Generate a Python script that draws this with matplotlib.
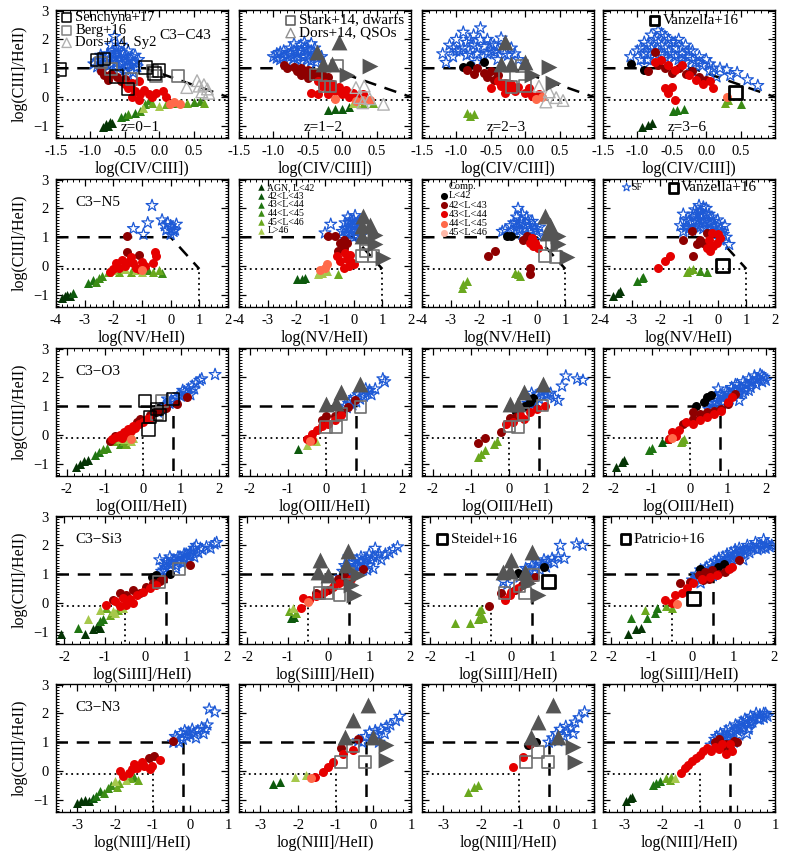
import matplotlib
matplotlib.use("Agg")
import matplotlib.pyplot as plt
from matplotlib.ticker import FixedLocator, MultipleLocator, FormatStrFormatter

plt.rcParams['font.family'] = ['Liberation Serif', 'DejaVu Serif']

# ── Data ──────────────────────────────────────────────────────────────────────
# comp classes: 0 L<42, 1 42-43, 2 43-44, 3 44-45, 4 45-46
# AGN classes : 0 L<42, 1 42-43, 2 43-44, 3 44-45, 4 45-46, 5 L>46

# --- row 1: C3-C4 -------------------------------------------------------------
SF_C4 = [
    [(-0.95, 1.15), (-0.9, 1.25), (-0.85, 1.05), (-0.8, 1.35), (-0.78, 1.2), (-0.75, 1.5), (-0.72, 1.1),
     (-0.7, 1.3), (-0.68, 1.6), (-0.65, 1.45), (-0.63, 1.2), (-0.6, 1.68), (-0.6, 1.0), (-0.58, 1.35),
     (-0.55, 1.55), (-0.55, 1.15), (-0.5, 1.4), (-0.5, 0.95), (-0.47, 1.25), (-0.45, 1.6), (-0.42, 1.1),
     (-0.4, 1.4), (-0.38, 0.85), (-0.35, 1.2), (-0.32, 1.05), (-0.65, 2.1), (-0.7, 1.8), (-0.55, 1.8),
     (-0.85, 1.45), (-0.45, 0.75), (-0.9, 1.05), (-0.85, 1.3), (-0.75, 1.4), (-0.7, 1.15), (-0.65, 1.35),
     (-0.62, 1.55), (-0.57, 1.25), (-0.52, 1.5), (-0.48, 1.05), (-0.43, 1.3), (-0.38, 1.2), (-0.35, 1.45),
     (-0.3, 1.3)],
    [(-1.0, 1.4), (-0.95, 1.5), (-0.9, 1.3), (-0.85, 1.6), (-0.8, 1.45), (-0.75, 1.7), (-0.7, 1.35),
     (-0.65, 1.55), (-0.6, 1.8), (-0.55, 1.4), (-0.5, 1.65), (-0.45, 1.85), (-0.4, 1.5), (-0.38, 1.2),
     (-0.45, 1.25), (-0.6, 1.2), (-0.3, 1.4), (-0.55, 1.9), (-0.8, 1.2), (-0.7, 1.85), (-0.95, 1.35),
     (-0.9, 1.55), (-0.85, 1.4), (-0.75, 1.5), (-0.7, 1.6), (-0.65, 1.4), (-0.6, 1.6), (-0.55, 1.7),
     (-0.5, 1.45), (-0.45, 1.6), (-0.4, 1.7), (-0.35, 1.35), (-0.5, 1.3), (-0.65, 1.3)],
    [(-1.2, 1.5), (-1.1, 1.8), (-1.05, 1.4), (-1.0, 2.0), (-0.95, 1.6), (-0.9, 2.25), (-0.85, 1.9),
     (-0.8, 1.5), (-0.75, 2.15), (-0.7, 1.7), (-0.65, 2.4), (-0.6, 1.4), (-0.55, 2.0), (-0.5, 1.6),
     (-0.45, 1.8), (-0.4, 1.3), (-0.3, 1.5), (-0.2, 1.7), (-0.1, 1.3), (-0.35, 2.05), (-0.7, 1.2),
     (-1.15, 1.2), (-1.0, 1.6), (-0.9, 1.7), (-0.85, 1.45), (-0.75, 1.8), (-0.7, 1.5), (-0.65, 2.0),
     (-0.6, 1.75), (-0.55, 1.5), (-0.5, 1.85), (-0.45, 1.55), (-0.4, 1.65), (-0.3, 1.8), (-0.25, 1.45),
     (-0.8, 2.0), (-1.05, 1.7), (-0.15, 1.5)],
    [(-1.1, 1.4), (-1.0, 1.6), (-0.95, 1.3), (-0.9, 1.9), (-0.85, 1.5), (-0.8, 2.15), (-0.8, 1.7),
     (-0.75, 1.3), (-0.7, 2.3), (-0.7, 1.9), (-0.65, 1.5), (-0.6, 2.1), (-0.6, 1.7), (-0.55, 1.3),
     (-0.5, 1.9), (-0.5, 1.5), (-0.45, 1.7), (-0.4, 1.3), (-0.4, 2.0), (-0.35, 1.5), (-0.3, 1.8),
     (-0.3, 1.2), (-0.25, 1.4), (-0.2, 1.6), (-0.15, 1.2), (-0.1, 1.4), (-0.05, 1.1), (0.0, 1.3),
     (0.05, 0.9), (0.15, 0.7), (0.2, 1.0), (0.35, 0.75), (0.45, 0.85), (0.6, 0.6), (0.75, 0.4),
     (0.3, 0.95), (-0.9, 1.1), (-0.2, 0.9), (-0.95, 1.7), (-0.9, 1.5), (-0.85, 1.8), (-0.75, 1.6),
     (-0.75, 2.0), (-0.65, 1.8), (-0.65, 2.2), (-0.55, 1.6), (-0.55, 2.0), (-0.45, 1.4), (-0.45, 1.9),
     (-0.35, 1.7), (-0.35, 1.3), (-0.25, 1.6), (-0.2, 1.3), (-0.1, 1.2), (0.05, 1.15), (0.1, 1.0),
     (-0.85, 1.3), (-0.6, 1.4)],
]
COMP_C4 = [
    [(-0.85, 0.9, 1), (-0.8, 0.75, 1), (-0.75, 0.6, 1), (-0.7, 0.8, 1), (-0.62, 0.7, 1), (-0.55, 0.55, 1),
     (-0.5, 0.62, 1), (-0.5, 0.45, 2), (-0.45, 0.3, 2), (-0.4, 0.5, 2), (-0.35, 0.2, 2), (-0.3, 0.55, 2),
     (-0.28, 0.1, 2), (-0.22, 0.25, 2), (-0.15, 0.1, 2), (-0.1, 0.0, 2), (-0.05, 0.15, 2), (0.05, 0.2, 2),
     (0.1, 0.0, 2), (-0.4, 0.0, 2), (-0.3, -0.1, 2), (0.15, -0.25, 3), (0.3, -0.25, 3), (0.22, -0.18, 3)],
    [(-0.85, 1.1, 1), (-0.8, 1.0, 1), (-0.7, 1.05, 1), (-0.65, 0.9, 1), (-0.6, 1.0, 1), (-0.55, 0.85, 1),
     (-0.5, 0.95, 1), (-0.45, 0.75, 1), (-0.4, 0.85, 1), (-0.35, 0.65, 1), (-0.3, 0.8, 1), (-0.25, 0.6, 1),
     (-0.2, 0.7, 1), (-0.6, 0.75, 1), (-0.5, 0.65, 1), (-0.35, 0.55, 2), (-0.3, 0.4, 2), (-0.25, 0.5, 2),
     (-0.2, 0.3, 2), (-0.15, 0.45, 2), (-0.1, 0.2, 2), (-0.05, 0.35, 2), (0.0, 0.1, 2), (0.05, 0.25, 2),
     (0.1, 0.0, 2), (0.15, 0.15, 2), (0.2, 0.05, 2), (-0.45, 0.15, 2), (-0.35, 0.1, 2), (-0.2, 0.1, 2),
     (0.25, -0.05, 2), (0.3, 0.1, 2), (0.4, -0.1, 3), (0.2, -0.15, 3), (0.3, -0.1, 3), (-0.1, -0.05, 3)],
    [(-0.9, 1.05, 0), (-0.8, 1.1, 0), (-0.6, 1.2, 0), (-0.85, 0.95, 1), (-0.75, 0.8, 1), (-0.7, 1.0, 1),
     (-0.6, 0.85, 1), (-0.55, 0.7, 1), (-0.5, 0.9, 1), (-0.45, 0.6, 1), (-0.4, 0.75, 1), (-0.4, 0.55, 2),
     (-0.35, 0.4, 2), (-0.3, 0.5, 2), (-0.25, 0.3, 2), (-0.2, 0.45, 2), (-0.15, 0.2, 2), (-0.1, 0.35, 2),
     (0.0, 0.15, 2), (0.05, 0.3, 2), (0.1, 0.05, 2), (0.2, 0.1, 2), (-0.5, 0.3, 2), (-0.3, 0.15, 2),
     (0.15, -0.05, 3), (0.25, 0.0, 3)],
    [(-1.1, 1.15, 0), (-0.9, 0.95, 0), (-0.85, 0.9, 1), (-0.7, 1.1, 1), (-0.6, 1.0, 1), (-0.5, 0.85, 1),
     (-0.4, 1.0, 1), (-0.3, 0.8, 1), (-0.2, 0.9, 1), (-0.1, 0.7, 1), (0.0, 0.6, 1), (-0.75, 1.55, 1),
     (-0.75, 1.2, 2), (-0.65, 1.3, 2), (-0.55, 1.1, 2), (-0.45, 0.95, 2), (-0.35, 1.1, 2), (-0.25, 0.75, 2),
     (-0.15, 0.6, 2), (-0.05, 0.45, 2), (0.1, 0.3, 2), (-0.6, 0.3, 2), (-0.55, 0.15, 2), (-0.5, 0.35, 2),
     (-0.45, -0.1, 2), (0.05, 0.55, 2), (0.3, 0.0, 3)],
]
AGN_C4 = [
    [(-0.82, -1.05, 0), (-0.78, -0.95, 0), (-0.75, -1.0, 0), (-0.72, -0.88, 0), (-0.68, -0.9, 0),
     (-0.55, -0.7, 2), (-0.5, -0.65, 2), (-0.45, -0.6, 3), (-0.35, -0.55, 2), (-0.28, -0.5, 3),
     (-0.23, -0.38, 5), (-0.2, -0.25, 3), (-0.15, -0.1, 3), (-0.1, -0.2, 4), (0.0, -0.3, 5),
     (0.1, -0.25, 4), (0.2, -0.2, 3), (0.3, -0.22, 4), (0.4, -0.2, 4), (0.5, -0.18, 3), (0.6, -0.15, 3),
     (0.65, -0.2, 4)],
    [(-0.2, -0.45, 1), (-0.1, -0.4, 1), (0.0, -0.4, 1), (0.1, -0.35, 1), (0.15, -0.2, 5), (0.25, -0.1, 5),
     (0.3, -0.25, 4), (0.45, -0.2, 4), (0.2, -0.2, 5)],
    [(-0.85, -0.55, 4), (-0.8, -0.65, 4), (-0.75, -0.6, 4)],
    [(-0.93, -1.04, 0), (-0.85, -0.97, 0), (-0.79, -0.9, 0), (-0.48, -0.5, 2), (-0.42, -0.45, 2),
     (-0.32, -0.4, 2), (0.32, -0.1, 4), (0.5, -0.25, 3), (0.28, -0.2, 4)],
]
SQK_C4 = [[(-1.45, 0.95), (-0.9, 1.28), (-0.8, 1.33), (-0.62, 0.72), (-0.45, 0.28), (-0.2, 1.02),
           (-0.07, 0.82), (0.0, 0.92)], [], [], []]
SQG_C4 = [[(-0.85, 1.2), (-0.7, 0.98), (-0.4, 0.62), (-0.05, 0.72), (0.27, 0.72), (-0.1, 0.9)],
          [(-0.38, 0.78), (-0.26, 0.37), (-0.17, 0.37), (-0.08, 1.1)],
          [(-0.3, 0.78), (-0.2, 0.35), (0.0, 0.38), (-0.05, 1.08)], []]
UP_C4 = [[], [(-0.37, 1.55), (-0.05, 1.9), (-0.28, 1.15), (-0.15, 1.15)],
         [(-0.3, 1.9), (-0.35, 1.15), (-0.2, 1.15), (0.0, 1.2)], []]
RT_C4 = [[], [(0.4, 1.07), (0.07, 0.75)], [(0.35, 1.05), (0.1, 0.75), (0.4, 0.5)], []]
OTRI_C4 = [[(0.4, 0.33), (0.55, 0.57), (0.58, 0.38), (0.65, 0.43), (0.7, 0.28), (0.72, 0.13), (0.62, 0.18)],
           [(0.2, 0.33), (0.32, 0.38), (0.25, -0.02), (0.4, -0.06), (0.6, -0.25), (0.3, -0.2)],
           [(0.2, 0.38), (0.35, 0.18), (0.45, -0.02), (0.55, -0.12), (0.3, -0.17)], []]
BIG_C4 = [[], [], [], [(0.42, 0.17)]]

# --- row 2: C3-N5 -------------------------------------------------------------
SF_N5 = [
    [(-0.65, 2.1), (-1.3, 1.3), (-0.95, 1.1), (-0.8, 1.5), (-0.3, 1.6), (-0.15, 1.25), (0.0, 1.4),
     (0.2, 1.45), (0.0, 1.1), (-0.2, 1.4), (0.1, 1.2), (-0.1, 1.5), (0.05, 1.3), (0.15, 1.25)],
    [(-0.8, 1.45), (-1.0, 1.15), (-0.4, 1.2), (-0.3, 1.5), (-0.2, 1.7), (-0.2, 1.3), (-0.1, 1.1),
     (-0.1, 1.6), (0.0, 1.4), (0.05, 1.75), (0.1, 1.2), (0.15, 1.5), (0.2, 1.3), (0.25, 1.05),
     (-0.35, 1.0), (0.0, 1.0), (-0.3, 1.3), (-0.15, 1.5), (0.0, 1.6), (0.1, 1.45), (-0.05, 1.25),
     (0.2, 1.55), (-0.25, 1.15), (0.1, 1.05)],
    [(-0.65, 2.0), (-0.7, 1.7), (-0.5, 1.8), (-0.9, 1.4), (-1.2, 1.2), (-1.0, 1.1), (-0.8, 1.25),
     (-0.6, 1.5), (-0.4, 1.3), (-0.3, 1.55), (-0.2, 1.25), (-0.1, 1.4), (0.0, 1.2), (0.1, 1.35),
     (-0.5, 1.1), (0.05, 1.05), (-0.3, 1.05), (-0.8, 1.5), (-0.7, 1.35), (-0.55, 1.6), (-0.45, 1.45),
     (-0.35, 1.7), (-0.25, 1.4), (-0.15, 1.55), (-0.05, 1.3), (-0.6, 1.25), (-1.1, 1.25)],
    [(-1.3, 1.4), (-1.2, 1.2), (-1.1, 1.6), (-1.0, 1.3), (-0.9, 1.5), (-0.8, 1.7), (-0.7, 1.4),
     (-0.65, 2.1), (-0.6, 1.9), (-0.5, 1.6), (-0.5, 1.3), (-0.4, 1.8), (-0.3, 1.5), (-0.2, 1.7),
     (-0.2, 1.2), (-0.1, 1.4), (0.0, 1.6), (0.1, 1.3), (0.2, 1.1), (0.3, 1.0), (0.4, 0.75), (0.1, 0.9),
     (-0.4, 2.0), (-0.8, 1.95), (0.25, 1.4), (-1.2, 1.8), (-1.1, 1.35), (-1.0, 1.55), (-0.9, 1.25),
     (-0.85, 1.8), (-0.75, 1.55), (-0.7, 1.8), (-0.6, 1.35), (-0.55, 1.75), (-0.45, 1.5), (-0.35, 1.3),
     (-0.3, 1.8), (-0.25, 1.45), (-0.15, 1.55), (-0.05, 1.25), (0.05, 1.45), (0.15, 1.2), (-0.5, 2.05),
     (-0.65, 1.6)],
]
COMP_N5 = [
    [(-1.53, 1.03, 1), (-1.53, 0.48, 1), (-1.1, 0.4, 1), (-2.0, -0.1, 2), (-1.9, 0.1, 2), (-1.8, -0.05, 2),
     (-1.7, 0.2, 2), (-1.6, 0.0, 2), (-1.5, 0.15, 2), (-1.4, 0.3, 2), (-1.3, 0.1, 2), (-1.2, -0.05, 2),
     (-1.0, 0.15, 2), (-0.9, 0.0, 2), (-0.6, 0.1, 2), (-0.55, 0.5, 2), (-0.5, 0.35, 2), (-2.1, -0.2, 2),
     (-1.1, -0.1, 2), (-1.0, -0.15, 3)],
    [(-0.88, 1.03, 1), (-0.65, 1.03, 1), (-0.47, 0.8, 1), (-0.35, 0.63, 1), (-0.53, 0.52, 1),
     (-0.23, 0.8, 1), (-0.35, 0.9, 1), (-0.59, 0.34, 2), (-0.47, 0.17, 2), (-0.23, 0.23, 2),
     (-0.12, 0.4, 2), (-0.17, 0.0, 2), (-0.35, -0.06, 2), (0.0, 0.06, 2), (-0.3, 0.45, 2), (-0.1, 0.15, 2),
     (-0.94, 0.06, 3), (-1.17, -0.12, 3), (-1.0, -0.05, 3)],
    [(-1.02, 1.03, 0), (-0.9, 1.05, 0), (-0.47, 0.92, 1), (-0.35, 1.03, 1), (-1.45, 0.52, 1),
     (-1.69, 0.34, 1), (-0.23, -0.06, 1), (-0.23, -0.29, 1), (-0.23, 0.8, 2), (-0.12, 0.69, 2),
     (0.06, 0.63, 2), (-0.05, 0.8, 2), (-0.17, 0.98, 2)],
    [(-1.2, 0.92, 1), (-0.9, 1.21, 1), (-0.85, 0.34, 1), (-0.73, 0.75, 1), (-0.62, 0.92, 1),
     (-0.38, 1.15, 1), (-0.5, 0.8, 1), (-2.07, -0.08, 2), (-1.84, 0.17, 2), (-1.66, 0.34, 2),
     (-0.38, 0.63, 2), (-0.27, 0.52, 2), (-0.21, 1.15, 2), (-0.03, 0.8, 2), (0.08, 0.98, 2),
     (-0.15, 0.69, 2), (-0.3, 0.9, 2), (0.0, 1.1, 2)],
]
AGN_N5 = [
    [(-3.8, -1.1, 0), (-3.7, -1.05, 0), (-3.6, -1.0, 0), (-3.5, -1.05, 0), (-3.4, -0.95, 1),
     (-2.9, -0.6, 2), (-2.7, -0.5, 2), (-2.6, -0.55, 3), (-2.5, -0.4, 3), (-2.4, -0.35, 3),
     (-2.2, -0.2, 4), (-2.0, -0.15, 5), (-1.8, -0.2, 4), (-1.6, -0.1, 5), (-1.4, -0.2, 4),
     (-1.2, -0.15, 5), (-1.0, -0.2, 5), (-0.8, -0.15, 3), (-0.6, -0.2, 4), (-0.4, -0.15, 4),
     (-0.3, -0.25, 3)],
    [(-1.99, -0.46, 1), (-1.8, -0.46, 1), (-1.7, -0.4, 1), (-1.23, -0.29, 5), (-1.1, -0.23, 5),
     (-0.94, -0.17, 5), (-0.53, -0.29, 4), (-1.2, -0.2, 5)],
    [(-2.56, -0.63, 4), (-2.44, -0.52, 4), (-2.62, -0.75, 4), (-0.76, -0.23, 4), (-0.64, -0.29, 4),
     (-0.58, -0.35, 4)],
    [(-3.64, -1.03, 0), (-3.47, -0.92, 0), (-3.4, -0.86, 0), (-2.83, -0.52, 2), (-2.65, -0.4, 2),
     (-2.59, -0.38, 2), (-1.08, -0.2, 4), (-0.85, -0.11, 4), (-1.0, -0.15, 4), (-0.62, -0.17, 3),
     (-0.38, -0.21, 3)],
]
SQK_N5 = [[], [], [], []]
SQG_N5 = [[], [(0.44, 0.78), (0.28, 0.34), (0.69, 0.34), (0.44, 0.52)],
          [(0.52, 0.75), (0.29, 0.34), (0.67, 0.31)], []]
UP_N5 = [[], [(0.34, 1.72), (0.28, 1.38), (0.57, 1.44), (0.28, 1.03)],
         [(0.29, 1.72), (0.47, 1.44), (0.35, 1.15)], []]
RT_N5 = [[], [(0.74, 1.09), (0.74, 0.75), (1.03, 0.29)], [(0.76, 1.03), (0.76, 0.75), (1.05, 0.31)], []]
OTRI_N5 = [[], [], [], []]
BIG_N5 = [[], [], [], [(0.17, 0.02)]]

# --- row 3: C3-O3 -------------------------------------------------------------
SF_O3 = [
    [(0.4, 0.8), (0.5, 0.9), (0.55, 1.0), (0.6, 1.05), (0.7, 1.1), (0.75, 1.2), (0.8, 1.15), (0.9, 1.3),
     (0.95, 1.4), (1.0, 1.35), (1.1, 1.5), (1.15, 1.45), (1.2, 1.6), (1.3, 1.7), (1.35, 1.6), (1.4, 1.8),
     (1.5, 1.9), (1.55, 1.95), (1.9, 2.1), (0.65, 1.25), (1.05, 1.55), (1.25, 1.4)],
    [(0.55, 0.95), (0.6, 1.1), (0.65, 1.2), (0.7, 1.05), (0.75, 1.3), (0.8, 1.15), (0.85, 1.4),
     (0.9, 1.25), (0.95, 1.5), (1.0, 1.35), (1.05, 1.6), (1.1, 1.45), (1.15, 1.55), (1.2, 1.4),
     (1.3, 1.6), (1.5, 1.95), (1.55, 1.85), (0.5, 1.0)],
    [(0.45, 0.95), (0.5, 1.1), (0.55, 1.2), (0.6, 1.05), (0.65, 1.3), (0.7, 1.15), (0.75, 1.4),
     (0.8, 1.25), (0.85, 1.5), (0.9, 1.35), (0.95, 1.55), (1.0, 1.4), (1.1, 1.45), (1.2, 1.3),
     (1.3, 1.2), (1.4, 1.7), (1.5, 2.05), (1.8, 1.95), (1.95, 1.9), (0.6, 1.45)],
    [(0.5, 0.9), (0.6, 1.1), (0.65, 1.3), (0.7, 1.0), (0.75, 1.2), (0.8, 1.4), (0.85, 1.1), (0.9, 1.3),
     (0.95, 1.5), (1.0, 1.25), (1.05, 1.45), (1.1, 1.65), (1.15, 1.35), (1.2, 1.55), (1.25, 1.75),
     (1.3, 1.45), (1.35, 1.65), (1.4, 1.85), (1.45, 1.55), (1.5, 1.75), (1.55, 1.95), (1.6, 1.65),
     (1.65, 1.85), (1.7, 2.05), (1.75, 1.75), (1.8, 1.95), (1.85, 2.1), (1.9, 1.85), (1.95, 2.0),
     (2.0, 1.9), (0.75, 1.6), (1.3, 1.2), (0.7, 1.3), (0.85, 1.35), (1.0, 1.45), (1.15, 1.55),
     (1.3, 1.6), (1.45, 1.75), (1.6, 1.8), (1.75, 1.9), (1.9, 2.05), (1.05, 1.25), (1.4, 1.45),
     (0.9, 1.15), (0.6, 0.95), (1.2, 1.75), (1.55, 1.55)],
]
COMP_O3 = [
    [(0.3, 0.9, 0), (0.4, 0.95, 0), (0.45, 0.85, 0), (0.35, 0.8, 0), (0.5, 0.9, 0), (1.15, 1.31, 1),
     (0.89, 1.08, 1), (-0.72, -0.02, 1), (-0.86, -0.2, 1), (-0.16, 0.45, 1), (-0.07, 0.55, 1),
     (0.37, 0.85, 1), (0.6, 0.95, 1), (0.2, 0.7, 1), (-0.8, -0.15, 2), (-0.7, -0.05, 2), (-0.6, 0.0, 2),
     (-0.5, 0.1, 2), (-0.45, 0.05, 2), (-0.4, 0.2, 2), (-0.3, 0.15, 2), (-0.25, 0.3, 2), (-0.2, 0.25, 2),
     (-0.1, 0.4, 2), (0.0, 0.45, 2), (0.1, 0.55, 2), (0.2, 0.6, 2), (-0.55, -0.1, 2), (-0.3, -0.15, 3)],
    [(0.0, 0.66, 1), (0.77, 1.2, 1), (0.23, 0.66, 1), (0.41, 0.79, 1), (0.59, 0.97, 1), (-0.09, 0.51, 1),
     (-0.5, -0.13, 2), (-0.36, 0.05, 2), (-0.23, 0.16, 2), (-0.09, 0.33, 2), (0.05, 0.39, 2),
     (0.23, 0.51, 2), (0.41, 0.68, 2), (-0.36, -0.18, 2), (-0.41, -0.2, 3)],
    [(0.64, 1.28, 0), (0.55, 1.14, 0), (0.43, 1.02, 0), (0.2, 0.79, 0), (0.02, 0.59, 1), (-0.21, 0.1, 1),
     (-0.62, -0.1, 1), (-0.81, -0.26, 1), (0.2, 0.63, 1), (-0.07, 0.39, 2), (0.11, 0.45, 2),
     (0.29, 0.68, 2), (0.57, 0.79, 2), (0.75, 0.91, 2), (0.94, 1.02, 2), (0.39, 0.56, 2)],
    [(0.17, 1.02, 0), (0.37, 1.14, 0), (0.46, 1.31, 0), (0.55, 1.39, 0), (-0.18, 0.39, 1), (0.09, 0.56, 1),
     (0.28, 0.74, 1), (0.46, 0.79, 1), (0.64, 0.85, 1), (0.83, 0.91, 1), (0.09, 0.79, 1), (1.19, 1.43, 1),
     (1.0, 1.08, 1), (-0.09, 0.45, 2), (-0.28, 0.16, 2), (-0.46, 0.1, 2), (0.09, 0.39, 2), (0.28, 0.51, 2),
     (0.46, 0.62, 2), (0.64, 0.74, 2), (0.83, 0.85, 2), (1.01, 1.14, 2), (1.1, 1.31, 2), (-0.55, -0.13, 2),
     (-0.37, -0.03, 2), (-0.46, -0.1, 3)],
]
AGN_O3 = [
    [(-1.75, -1.1, 0), (-1.65, -1.0, 0), (-1.55, -0.9, 0), (-1.45, -0.85, 0), (-1.25, -0.7, 2),
     (-1.15, -0.6, 2), (-1.05, -0.5, 3), (-0.95, -0.45, 3), (-0.75, -0.2, 4), (-0.6, -0.15, 5),
     (-0.5, -0.2, 4), (-0.4, -0.15, 5), (-0.3, -0.2, 5), (-0.25, -0.1, 5), (-0.6, -0.3, 3),
     (-0.45, -0.3, 4)],
    [(-0.73, -0.47, 1), (-0.5, -0.33, 5), (-0.25, -0.22, 5)],
    [(-0.81, -0.76, 4), (-0.72, -0.64, 4), (-0.62, -0.53, 4), (-0.39, -0.3, 4), (-0.3, -0.22, 4)],
    [(-1.93, -1.1, 0), (-1.79, -0.93, 0), (-1.74, -0.87, 0), (-1.06, -0.53, 2), (-1.0, -0.45, 2),
     (-0.73, -0.24, 1), (-0.6, -0.13, 1), (-0.23, -0.24, 4), (-0.14, -0.15, 4), (-0.2, -0.2, 4)],
]
SQK_O3 = [[(0.06, 1.19), (0.15, 0.2), (0.19, 0.63), (0.37, 0.91), (0.45, 0.7), (0.79, 1.25)], [], [], []]
SQG_O3 = [[(0.5, 1.19), (0.37, 0.74)], [(0.91, 0.97), (0.41, 0.74), (0.0, 0.28), (0.27, 0.28)],
          [(0.89, 1.02), (0.39, 0.74), (0.02, 0.3), (0.25, 0.28)], []]
UP_O3 = [[], [(0.91, 1.77), (0.41, 1.48), (0.0, 1.08), (0.27, 1.11)],
         [(0.89, 1.77), (0.39, 1.48), (0.02, 1.08), (0.25, 1.08)], []]
RT_O3 = [[], [], [], []]
OTRI_O3 = [[], [], [], []]
BIG_O3 = [[], [], [], []]

# --- row 4: C3-Si3 ------------------------------------------------------------
SF_SI3 = [
    [(0.4, 1.1), (0.45, 1.3), (0.5, 1.2), (0.55, 1.4), (0.6, 1.15), (0.65, 1.35), (0.7, 1.5), (0.75, 1.3),
     (0.8, 1.45), (0.85, 1.6), (0.9, 1.4), (0.95, 1.55), (1.0, 1.7), (1.05, 1.5), (1.1, 1.65), (1.15, 1.8),
     (1.2, 1.6), (1.3, 1.75), (1.4, 1.85), (1.5, 1.95), (1.6, 1.9), (1.7, 2.05), (1.75, 2.1), (0.35, 1.5),
     (1.25, 2.0), (0.6, 1.6), (0.5, 1.45), (0.65, 1.5), (0.8, 1.6), (0.95, 1.7), (1.1, 1.75), (1.2, 1.9),
     (1.35, 1.9), (0.75, 1.2), (1.0, 1.45), (0.45, 1.15)],
    [(0.3, 0.9), (0.35, 1.1), (0.4, 1.3), (0.45, 1.0), (0.5, 1.2), (0.55, 1.4), (0.6, 1.1), (0.65, 1.3),
     (0.7, 1.5), (0.75, 1.25), (0.8, 1.45), (0.85, 1.15), (0.9, 1.35), (0.95, 1.55), (1.0, 1.3),
     (1.05, 1.5), (1.1, 1.2), (1.2, 1.6), (1.3, 1.5), (1.4, 1.7), (1.5, 1.75), (1.6, 1.85), (1.7, 1.95),
     (1.15, 1.9), (0.5, 1.6), (0.45, 1.2), (0.6, 1.4), (0.7, 1.3), (0.8, 1.6), (0.9, 1.5), (1.0, 1.7),
     (1.1, 1.6), (1.25, 1.7), (0.55, 1.0), (0.95, 1.15)],
    [(-0.2, 0.75), (-0.1, 0.65), (0.2, 0.9), (0.3, 1.05), (0.35, 1.2), (0.4, 0.95), (0.45, 1.15),
     (0.5, 1.3), (0.55, 1.05), (0.6, 1.25), (0.65, 1.4), (0.7, 1.15), (0.75, 1.35), (0.8, 1.5),
     (0.85, 1.25), (0.9, 1.45), (1.0, 1.55), (1.05, 1.4), (1.15, 1.6), (1.2, 2.0), (1.6, 2.05),
     (1.75, 2.0), (1.3, 1.55)],
    [(0.0, 0.8), (0.1, 1.0), (0.15, 0.85), (0.2, 1.15), (0.3, 1.0), (0.35, 1.25), (0.4, 1.1), (0.45, 1.35),
     (0.5, 1.2), (0.55, 1.45), (0.6, 1.3), (0.65, 1.55), (0.7, 1.35), (0.75, 1.6), (0.8, 1.45), (0.85, 1.7),
     (0.9, 1.5), (0.95, 1.75), (1.0, 1.6), (1.05, 1.85), (1.1, 1.65), (1.15, 1.9), (1.2, 1.7), (1.3, 1.8),
     (1.35, 2.0), (1.4, 1.75), (1.5, 1.9), (1.55, 2.1), (1.6, 1.85), (1.7, 2.0), (1.75, 2.2), (1.8, 1.9),
     (1.85, 2.05), (1.9, 1.95), (0.5, 0.95), (0.9, 1.25), (1.25, 1.5), (0.2, 0.7), (0.3, 1.15),
     (0.45, 1.1), (0.6, 1.4), (0.75, 1.4), (0.85, 1.55), (0.95, 1.55), (1.05, 1.7), (1.15, 1.75),
     (1.25, 1.85), (1.35, 1.85), (1.45, 1.95), (1.6, 2.0), (1.7, 1.9), (1.8, 2.05), (1.95, 2.0),
     (0.1, 0.85), (0.7, 1.2), (1.1, 1.5)],
]
COMP_SI3 = [
    [(0.15, 0.91, 0), (0.6, 1.02, 0), (0.27, 0.97, 0), (1.09, 1.31, 1), (0.43, 0.85, 1), (-0.3, 0.45, 1),
     (-0.14, 0.34, 1), (0.02, 0.57, 1), (0.19, 0.68, 1), (-0.47, 0.28, 1), (-0.8, 0.11, 1),
     (-0.63, 0.34, 1), (0.35, 0.75, 1), (-0.96, -0.06, 2), (-0.75, 0.06, 2), (-0.55, 0.17, 2),
     (-0.39, 0.15, 2), (-0.22, 0.28, 2), (-0.06, 0.4, 2), (0.11, 0.51, 2), (0.27, 0.62, 2),
     (-0.47, -0.06, 2), (-0.3, 0.0, 2), (-0.63, -0.11, 2)],
    [(0.35, 1.02, 0), (0.15, 0.68, 1), (0.23, 0.85, 1), (0.4, 0.91, 1), (0.85, 1.19, 1), (-0.3, 0.34, 1),
     (-0.18, 0.28, 1), (-0.02, 0.45, 1), (0.44, 0.74, 1), (-0.63, 0.17, 2), (-0.47, 0.11, 2),
     (-0.3, 0.23, 2), (-0.1, 0.4, 2), (0.11, 0.57, 2), (0.27, 0.68, 2), (0.56, 0.85, 2), (-0.67, -0.17, 2),
     (-0.51, 0.05, 3)],
    [(0.15, 1.05, 0), (0.79, 1.25, 0), (-0.54, -0.11, 1), (-0.25, 0.34, 1), (0.25, 0.63, 1), (0.41, 0.8, 1),
     (0.58, 0.91, 1), (0.08, 0.45, 1), (-0.17, 0.11, 2), (0.0, 0.4, 2), (0.17, 0.51, 2), (0.33, 0.68, 2),
     (-0.04, 0.28, 2)],
    [(0.19, 1.19, 0), (0.64, 1.25, 0), (0.77, 1.36, 0), (-0.31, 0.68, 1), (-0.06, 0.74, 1), (0.15, 0.97, 1),
     (0.31, 1.08, 1), (0.48, 1.14, 1), (1.14, 1.48, 1), (0.4, 0.85, 1), (0.64, 1.02, 1), (0.81, 1.08, 1),
     (0.27, 0.8, 1), (-0.68, 0.11, 2), (-0.43, 0.28, 2), (-0.26, 0.34, 2), (-0.14, 0.51, 2), (0.02, 0.68, 2),
     (0.23, 0.85, 2), (0.44, 0.91, 2), (0.6, 0.97, 2), (0.89, 1.19, 2), (0.98, 1.25, 2), (-0.51, 0.0, 2),
     (-0.39, -0.03, 3)],
]
AGN_SI3 = [
    [(-2.07, -1.08, 0), (-1.49, -1.08, 0), (-1.29, -0.91, 0), (-1.2, -0.8, 0), (-1.12, -0.85, 0),
     (-1.65, -0.85, 2), (-1.12, -0.62, 2), (-1.04, -0.57, 2), (-1.41, -0.57, 5), (-1.12, -0.23, 5),
     (-0.96, -0.17, 4), (-0.8, -0.28, 5), (-0.67, -0.23, 4), (-0.55, -0.17, 5), (-0.88, -0.4, 4),
     (-0.75, -0.35, 5)],
    [(-0.96, -0.28, 4), (-0.88, -0.17, 5), (-0.8, -0.34, 4), (-0.92, -0.51, 1), (-0.84, -0.49, 1)],
    [(-1.4, -0.68, 4), (-1.03, -0.68, 4), (-0.83, -0.57, 4), (-0.74, -0.45, 4), (-0.7, -0.51, 4),
     (-0.79, -0.26, 4), (-0.74, -0.19, 4)],
    [(-1.59, -1.06, 0), (-1.38, -0.91, 0), (-1.26, -0.85, 0), (-1.5, -0.51, 2), (-1.13, -0.51, 2),
     (-0.93, -0.34, 2), (-0.88, -0.17, 2), (-1.17, -0.23, 4), (-0.64, -0.11, 4), (-0.51, -0.17, 4)],
]
SQK_SI3 = [[], [], [], []]
SQG_SI3 = [[(0.33, 0.74), (0.82, 1.19)],
           [(-0.02, 0.74), (0.48, 1.02), (-0.02, 0.34), (0.27, 0.28), (-0.22, 0.34)],
           [(-0.17, 0.34), (0.33, 0.34), (0.54, 0.97), (0.2, 0.6)], []]
UP_SI3 = [[], [(0.48, 1.82), (-0.22, 1.48), (-0.26, 1.08), (-0.02, 0.97), (0.44, 1.31)],
          [(0.0, 1.48), (0.5, 1.76), (-0.21, 1.08), (-0.04, 1.1), (0.33, 1.08)], []]
RT_SI3 = [[], [(0.72, 0.97), (0.56, 0.63), (0.64, 0.28)], [(0.41, 0.68), (0.66, 0.28)], []]
OTRI_SI3 = [[], [], [], []]
BIG_SI3 = [[], [], [(0.91, 0.76)], [(0.02, 0.15)]]

# --- row 5: C3-N3 -------------------------------------------------------------
SF_N3 = [
    [(-0.45, 1.0), (-0.35, 1.15), (-0.3, 1.0), (-0.25, 1.3), (-0.2, 1.1), (-0.15, 1.4), (-0.1, 1.2),
     (-0.05, 1.35), (0.0, 1.25), (0.05, 1.45), (0.1, 1.3), (0.15, 1.15), (0.2, 1.4), (0.3, 1.5),
     (0.35, 1.3), (0.4, 1.45), (0.45, 1.6), (0.5, 2.15), (0.65, 2.05), (-0.4, 1.2)],
    [(-0.3, 1.0), (-0.2, 1.2), (-0.1, 1.35), (0.0, 1.1), (0.05, 1.4), (0.1, 1.25), (0.2, 1.45),
     (0.3, 1.3), (0.35, 1.55), (0.45, 1.6), (0.6, 1.75), (0.7, 1.9), (-0.4, 1.05), (0.15, 1.0)],
    [(-0.2, 1.0), (-0.1, 1.15), (0.0, 1.3), (0.05, 1.05), (0.1, 1.45), (0.2, 1.2), (0.25, 1.55),
     (0.3, 1.35), (0.4, 1.5), (0.5, 1.7), (0.6, 1.85), (0.75, 2.05), (0.45, 1.3)],
    [(-0.7, 0.9), (-0.6, 1.1), (-0.5, 1.0), (-0.45, 1.3), (-0.4, 1.15), (-0.3, 1.4), (-0.25, 1.2),
     (-0.2, 1.5), (-0.1, 1.3), (-0.05, 1.6), (0.0, 1.4), (0.1, 1.7), (0.15, 1.5), (0.2, 1.8), (0.3, 1.6),
     (0.35, 1.9), (0.4, 1.7), (0.5, 2.0), (0.55, 1.8), (0.6, 1.95), (0.7, 2.0), (0.8, 1.9), (-0.1, 1.0),
     (0.25, 1.3), (-0.55, 1.2), (-0.35, 1.25), (-0.3, 1.1), (-0.15, 1.35), (-0.05, 1.45), (0.05, 1.55),
     (0.15, 1.65), (0.25, 1.75), (0.35, 1.7), (0.45, 1.85), (0.6, 1.8), (0.7, 1.85), (0.75, 2.0),
     (0.05, 1.25), (0.3, 1.45), (-0.6, 0.95)],
]
COMP_N3 = [
    [(-0.46, 1.03, 1), (-1.11, 0.44, 1), (-0.96, 0.52, 1), (-0.8, 0.37, 2), (-1.29, 0.31, 2),
     (-1.42, 0.11, 2), (-1.55, 0.06, 2), (-1.78, -0.17, 2), (-1.64, -0.06, 2), (-1.24, 0.17, 2),
     (-1.07, 0.06, 2), (-1.02, 0.17, 2), (-1.51, 0.23, 2), (-1.86, 0.0, 2)],
    [(-0.86, 0.79, 1), (-0.41, 1.1, 1), (-1.33, -0.03, 2), (-1.07, 0.31, 2), (-0.8, 0.59, 2),
     (-0.54, 0.72, 2), (-1.54, -0.21, 2), (-1.2, 0.14, 2), (-1.65, -0.25, 3)],
    [(-0.75, 0.9, 0), (-0.55, 1.0, 0), (-0.7, 0.95, 1), (-1.15, 0.14, 2), (-0.88, 0.48, 2)],
    [(-0.6, 1.0, 1), (-0.5, 1.1, 1), (-0.4, 0.85, 1), (-0.3, 0.95, 1), (-0.2, 0.8, 1), (-0.1, 1.05, 1),
     (0.0, 1.0, 1), (-1.4, 0.1, 2), (-1.3, 0.2, 2), (-1.2, 0.35, 2), (-1.1, 0.45, 2), (-1.0, 0.55, 2),
     (-0.9, 0.7, 2), (-0.8, 0.8, 2), (-0.7, 0.7, 2), (-0.6, 0.85, 2), (-0.5, 0.75, 2), (-0.4, 0.95, 2),
     (-0.2, 0.95, 2), (-0.15, 0.7, 2), (-0.3, 0.6, 2), (-1.5, -0.05, 2)],
]
AGN_N3 = [
    [(-3.0, -1.1, 0), (-2.9, -1.05, 0), (-2.8, -1.0, 0), (-2.7, -1.05, 0), (-2.6, -0.95, 1),
     (-2.5, -0.85, 2), (-2.4, -0.7, 2), (-2.3, -0.75, 3), (-2.2, -0.6, 3), (-2.1, -0.5, 3),
     (-2.0, -0.35, 5), (-1.9, -0.4, 4), (-1.6, -0.25, 4), (-1.5, -0.2, 3), (-1.4, -0.3, 4),
     (-1.7, -0.3, 5), (-1.95, -0.55, 4)],
    [(-2.66, -0.45, 1), (-2.47, -0.38, 1), (-2.07, -0.21, 5), (-1.78, -0.14, 5)],
    [(-2.34, -0.72, 4), (-2.2, -0.55, 4), (-2.07, -0.48, 4)],
    [(-2.95, -1.05, 0), (-2.85, -0.95, 0), (-2.8, -0.9, 0), (-2.25, -0.5, 2), (-2.15, -0.4, 2),
     (-2.05, -0.35, 2), (-1.9, -0.25, 4), (-1.75, -0.2, 4), (-1.65, -0.25, 5), (-1.8, -0.3, 4)],
]
SQK_N3 = [[], [], [], []]
SQG_N3 = [[], [(-0.54, 0.86), (-0.22, 0.31), (-0.86, 0.31)], [(-0.49, 0.66), (-0.22, 0.31), (-0.8, 0.31)], []]
UP_N3 = [[], [(-0.14, 2.28), (-0.54, 1.76), (-0.75, 1.17), (-0.01, 1.17)],
         [(-0.09, 2.28), (-0.49, 1.69), (-0.67, 1.17), (0.04, 1.17)], []]
RT_N3 = [[], [(0.33, 0.9), (0.33, 0.38)], [(0.44, 0.83), (0.49, 0.31)], []]
OTRI_N3 = [[], [], [], []]
BIG_N3 = [[], [], [], []]

Z_LABELS = ["z=0\u22121", "z=1\u22122", "z=2\u22123", "z=3\u22126"]
ROW_NAMES = ["C3\u2212C43", "C3\u2212N5", "C3\u2212O3", "C3\u2212Si3", "C3\u2212N3"]
XLABELS = ["log(CIV/CIII])", "log(NV/HeII)", "log(OIII/HeII)", "log(SiIII]/HeII)", "log(NIII]/HeII)"]
XLIMS = [(-1.5, 1.0), (-4.0, 2.0), (-2.28, 2.24), (-2.2, 2.03), (-3.57, 1.0)]
XTICKS = [[-1.5, -1.0, -0.5, 0.0, 0.5], [-4, -3, -2, -1, 0, 1, 2], [-2, -1, 0, 1, 2], [-2, -1, 0, 1, 2],
          [-3, -2, -1, 0, 1]]
# boundary lines: dashed (SF/comp) and dotted (comp/AGN)
DASH = [[(-1.5, 1.0), (-0.2, 1.0), (1.0, 0.0)], [(-4, 1.0), (0.0, 1.0), (1.0, -0.1)],
        [(-2.3, 1.0), (0.8, 1.0), (0.8, -1.5)], [(-2.2, 1.0), (0.5, 1.0), (0.5, -1.5)],
        [(-3.6, 1.0), (-0.2, 1.0), (-0.2, -1.5)]]
DOT = [[(-1.5, -0.1), (1.0, -0.1)], [(-4, -0.1), (1.0, -0.1), (1.0, -1.5)],
       [(-2.3, -0.1), (0.0, -0.1), (0.0, -1.5)], [(-2.2, -0.1), (-0.5, -0.1), (-0.5, -1.5)],
       [(-3.6, -0.1), (-1.0, -0.1), (-1.0, -1.5)]]

SF_COLOR = "#1e5ad6"
COMP_COLORS = ["#000000", "#8e0000", "#e50000", "#ff6a4a", "#ffb8a8"]
AGN_COLORS = ["#053505", "#0d5a0d", "#1f7512", "#3c8c16", "#6aa81e", "#a6c84c"]
COMP_LABELS = ["L<42", "42<L<43", "43<L<44", "44<L<45", "45<L<46"]
AGN_LABELS = ["AGN, L<42", "42<L<43", "43<L<44", "44<L<45", "45<L<46", "L>46"]

ROWS = [
    (SF_C4, COMP_C4, AGN_C4, SQK_C4, SQG_C4, UP_C4, RT_C4, OTRI_C4, BIG_C4),
    (SF_N5, COMP_N5, AGN_N5, SQK_N5, SQG_N5, UP_N5, RT_N5, OTRI_N5, BIG_N5),
    (SF_O3, COMP_O3, AGN_O3, SQK_O3, SQG_O3, UP_O3, RT_O3, OTRI_O3, BIG_O3),
    (SF_SI3, COMP_SI3, AGN_SI3, SQK_SI3, SQG_SI3, UP_SI3, RT_SI3, OTRI_SI3, BIG_SI3),
    (SF_N3, COMP_N3, AGN_N3, SQK_N3, SQG_N3, UP_N3, RT_N3, OTRI_N3, BIG_N3),
]

# ── layout (pixels of the 789x852 canvas) ─────────────────────────────────────
W, H = 789, 852
COL_LEFT = [56, 239, 422, 603]
ROW_TOP = [10, 179, 348, 516, 684]
AX_W, AX_H = 172, 128


def xy(pts):
    return [p[0] for p in pts], [p[1] for p in pts]


def legend_rows(ax, x0, y0, dy, entries, fs, tx):
    for i, (mk, fc, ec, lw, s, lab) in enumerate(entries):
        y = y0 - i * dy
        if mk:
            ax.scatter([x0], [y], marker=mk, s=s, facecolors=fc, edgecolors=ec, linewidths=lw,
                       transform=ax.transAxes, clip_on=False, zorder=8)
        ax.text(x0 + tx, y, lab, transform=ax.transAxes, fontsize=fs, va="center", ha="left", zorder=8)


fig = plt.figure(figsize=(W / 100, H / 100), dpi=100)

for r, (sf, comp, agn, sqk, sqg, up, rt, otri, big) in enumerate(ROWS):
    for c in range(4):
        ax = fig.add_axes([COL_LEFT[c] / W, 1 - (ROW_TOP[r] + AX_H) / H, AX_W / W, AX_H / H])
        ax.set_xlim(*XLIMS[r])
        ax.set_ylim(-1.42, 3.02)

        # boundaries
        ax.plot(*xy(DASH[r]), color="black", lw=1.8, ls=(0, (5, 3.5)), zorder=1)
        ax.plot(*xy(DOT[r]), color="black", lw=1.3, ls=(0, (1, 2)), zorder=1)

        # star-forming models
        if sf[c]:
            ax.scatter(*xy(sf[c]), marker="*", s=80, facecolors="none", edgecolors=SF_COLOR,
                       linewidths=0.9, zorder=2)
        # AGN models
        for k, col in enumerate(AGN_COLORS):
            pts = [p for p in agn[c] if p[2] == k]
            if pts:
                ax.scatter(*xy(pts), marker="^", s=42, color=col, linewidths=0, zorder=3)
        # composite models
        for k, col in enumerate(COMP_COLORS):
            pts = [p for p in comp[c] if p[2] == k]
            if pts:
                ax.scatter(*xy(pts), marker="o", s=42, color=col, linewidths=0, zorder=4)

        # observations
        if otri[c]:
            ax.scatter(*xy(otri[c]), marker="^", s=70, facecolors="none", edgecolors="#b0b0b0",
                       linewidths=1.0, zorder=5)
        if sqg[c]:
            ax.scatter(*xy(sqg[c]), marker="s", s=70, facecolors="none", edgecolors="#707070",
                       linewidths=1.2, zorder=6)
        if sqk[c]:
            ax.scatter(*xy(sqk[c]), marker="s", s=80, facecolors="none", edgecolors="black",
                       linewidths=1.1, zorder=6)
        if up[c]:
            ax.scatter(*xy(up[c]), marker="^", s=130, color="#555555", linewidths=0, zorder=6)
        if rt[c]:
            ax.scatter(*xy(rt[c]), marker=">", s=130, color="#555555", linewidths=0, zorder=6)
        if big[c]:
            ax.scatter(*xy(big[c]), marker="s", s=90, facecolors="none", edgecolors="black",
                       linewidths=2.0, zorder=7)

        # axes cosmetics, IDL-like
        ax.xaxis.set_major_locator(FixedLocator(XTICKS[r]))
        step = XTICKS[r][1] - XTICKS[r][0]
        ax.xaxis.set_minor_locator(MultipleLocator(step / 5))
        ax.yaxis.set_major_locator(MultipleLocator(1))
        ax.yaxis.set_minor_locator(MultipleLocator(0.1))
        if r == 0:
            ax.xaxis.set_major_formatter(FormatStrFormatter("%.1f"))
        else:
            ax.xaxis.set_major_formatter(FormatStrFormatter("%d"))
        ax.tick_params(which="both", direction="in", top=True, right=True, labelsize=10.5, pad=5)
        ax.tick_params(which="major", length=5, width=0.9)
        ax.tick_params(which="minor", length=2.5, width=0.7)
        for sp in ax.spines.values():
            sp.set_linewidth(1.0)
        ax.set_xlabel(XLABELS[r], fontsize=11.5, labelpad=2)
        if c == 0:
            ax.set_ylabel("log(CIII]/HeII)", fontsize=11.5, labelpad=4)
        else:
            ax.set_yticklabels([])

        # panel texts
        if r == 0:
            ax.text(0.49, 0.08, Z_LABELS[c], transform=ax.transAxes, fontsize=11, ha="center", va="center")
            if c == 0:
                ax.text(0.6, 0.80, ROW_NAMES[r], transform=ax.transAxes, fontsize=11, ha="left", va="center")
        elif c == 0:
            ax.text(0.11, 0.82, ROW_NAMES[r], transform=ax.transAxes, fontsize=11, ha="left", va="center")

        # legends
        if r == 0 and c == 0:
            legend_rows(ax, 0.062, 0.94, 0.098, [
                ("s", "none", "black", 1.1, 45, "Senchyna+17"),
                ("s", "none", "#808080", 1.1, 45, "Berg+16"),
                ("^", "none", "#b0b0b0", 1.0, 45, "Dors+14, Sy2")], 10.5, 0.05)
        if r == 0 and c == 1:
            legend_rows(ax, 0.30, 0.92, 0.1, [
                ("s", "none", "#555555", 1.1, 45, "Stark+14, dwarfs"),
                ("^", "none", "#909090", 1.0, 45, "Dors+14, QSOs")], 11, 0.05)
        if r == 0 and c == 3:
            legend_rows(ax, 0.30, 0.92, 0.1, [("s", "none", "black", 2.0, 45, "Vanzella+16")], 11, 0.05)
        if r == 1 and c == 1:
            legend_rows(ax, 0.13, 0.935, 0.068,
                        [("^", AGN_COLORS[k], AGN_COLORS[k], 0, 22, AGN_LABELS[k]) for k in range(6)],
                        7, 0.035)
        if r == 1 and c == 2:
            legend_rows(ax, 0.125, 0.94, 0.072,
                        [(None, None, None, 0, 0, "Comp.")] +
                        [("o", COMP_COLORS[k], COMP_COLORS[k], 0, 26, COMP_LABELS[k]) for k in range(5)],
                        7.5, 0.03)
        if r == 1 and c == 3:
            legend_rows(ax, 0.137, 0.935, 0.1, [("*", "none", SF_COLOR, 0.8, 40, "SF")], 7, 0.03)
            legend_rows(ax, 0.41, 0.93, 0.1, [("s", "none", "black", 2.0, 45, "Vanzella+16")], 11, 0.045)
        if r == 3 and c == 2:
            legend_rows(ax, 0.116, 0.82, 0.1, [("s", "none", "black", 2.0, 45, "Steidel+16")], 11, 0.05)
        if r == 3 and c == 3:
            legend_rows(ax, 0.13, 0.82, 0.1, [("s", "none", "black", 2.0, 45, "Patricio+16")], 11, 0.05)

fig.savefig("out.png", dpi=100)
